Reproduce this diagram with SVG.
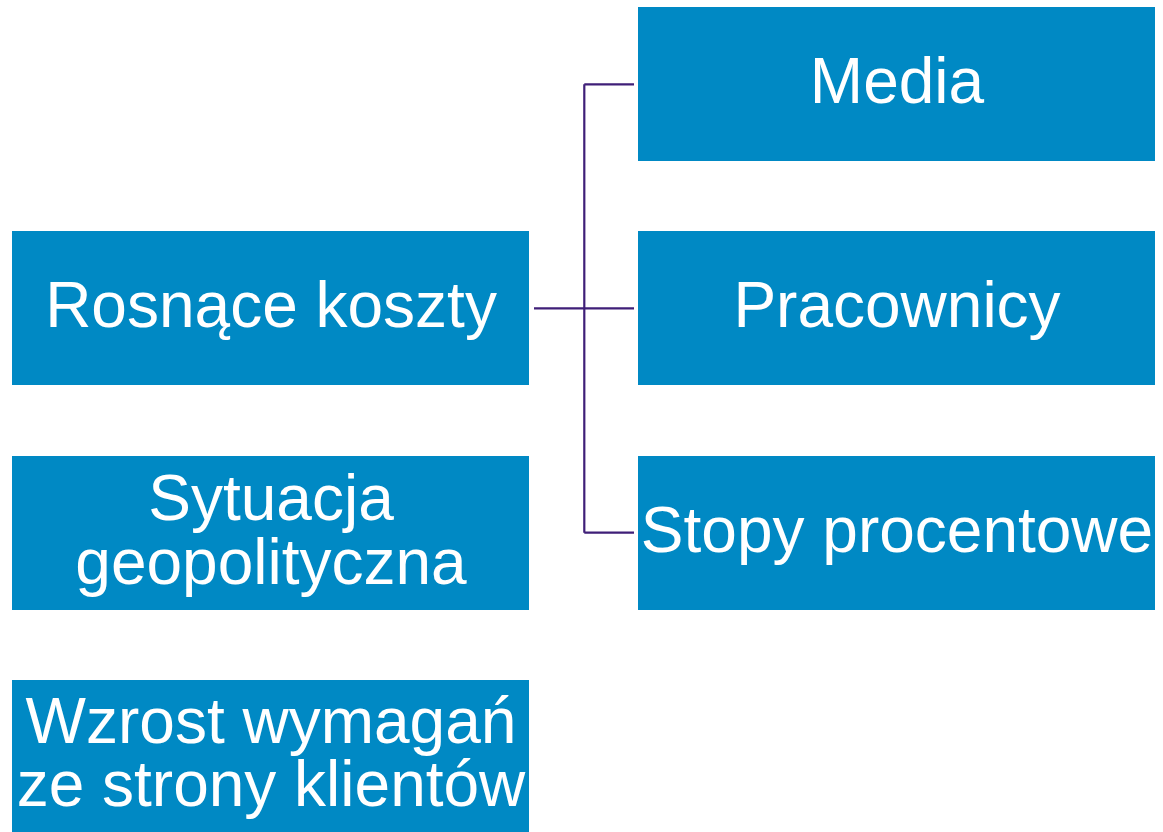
<svg xmlns="http://www.w3.org/2000/svg" width="1163" height="832" viewBox="0 0 1163 832">
<style>
.box{fill:#0089c4;}
.t{fill:#ffffff;font-family:"Liberation Sans",Arial,sans-serif;font-size:64px;text-anchor:middle;}
.c{fill:none;stroke:#3f1f78;stroke-width:2.2;}
</style>
<rect width="1163" height="832" fill="#ffffff"/>
<g id="connectors">
<path class="c" d="M534,308.3H634M584.3,84.3V532.7M584.3,84.3H634M584.3,532.7H634"/>
</g>
<g id="n-rosnace"><rect class="box" x="12" y="231" width="517" height="154"/><text class="t" x="271" y="327">Rosnące koszty</text></g>
<g id="n-sytuacja"><rect class="box" x="12" y="456" width="517" height="154"/><text class="t" x="271" y="520">Sytuacja</text><text class="t" x="271" y="584">geopolityczna</text></g>
<g id="n-wzrost"><rect class="box" x="12" y="680" width="517" height="154"/><text class="t" x="271" y="743">Wzrost wymagań</text><text class="t" x="271" y="806">ze strony klientów</text></g>
<g id="n-media"><rect class="box" x="638" y="7" width="517" height="154"/><text class="t" x="897" y="103">Media</text></g>
<g id="n-pracownicy"><rect class="box" x="638" y="231" width="517" height="154"/><text class="t" x="897" y="327">Pracownicy</text></g>
<g id="n-stopy"><rect class="box" x="638" y="456" width="517" height="154"/><text class="t" x="897" y="552">Stopy procentowe</text></g>
</svg>
